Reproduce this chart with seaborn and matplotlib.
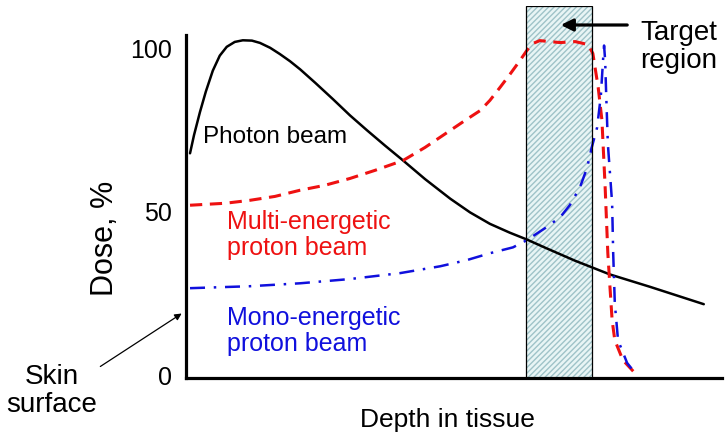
import matplotlib
matplotlib.use("Agg")
import matplotlib.pyplot as plt
from matplotlib.patches import Rectangle
import seaborn as sns
import pandas as pd

# Profundidad (unidades arbitrarias, 0-100) y dosis (%)
photon_depth = [0.75, 1.5, 2.6, 3.7, 5.0, 6.3, 7.6, 9.1, 10.6, 12.3, 13.8, 15.7, 17.5,
                19.4, 21.3, 24.1, 27.4, 30.6, 33.8, 37.1, 40.5, 44.6, 49.3, 53.0, 56.7,
                60.4, 63.6, 67.0, 69.8, 72.6, 75.7, 79.1, 86.6, 96.6]
photon_dose = [67.9, 73.5, 80.5, 86.8, 93.2, 97.8, 100.5, 102.0, 102.5, 102.4, 101.7,
               100.2, 98.3, 96.1, 93.6, 89.5, 84.5, 79.5, 74.9, 70.3, 65.7, 60.0, 54.0,
               49.8, 46.3, 43.6, 41.5, 39.0, 37.0, 35.0, 33.0, 30.8, 27.0, 21.7]

multi_depth = [0.75, 7.3, 11.9, 16.6, 21.3, 25.9, 30.6, 35.3, 40.5, 44.6, 49.3, 52.1,
               54.9, 56.7, 58.6, 60.4, 62.3, 63.6, 64.7, 66.0, 69.8, 72.6, 75.0, 75.9,
               76.9, 77.6, 78.2, 78.7, 79.1, 79.5, 80.0, 81.5, 84.1]
multi_dose = [52.0, 52.6, 53.5, 54.7, 56.6, 58.1, 60.2, 62.7, 65.7, 69.7, 74.9, 78.0,
              81.0, 84.1, 88.1, 92.0, 96.3, 99.4, 101.5, 102.4, 101.8, 102.1, 101.2, 98.5,
              88.1, 78.0, 57.5, 37.3, 26.9, 16.8, 10.7, 4.6, 0.0]

mono_depth = [0.75, 11.9, 21.3, 30.6, 39.9, 47.4, 52.4, 56.7, 61.0, 63.6, 67.0, 69.8,
              71.6, 73.5, 74.8, 75.7, 76.7, 77.4, 77.8, 78.0, 78.2, 78.4, 78.7, 79.5,
              79.7, 80.0, 80.6, 82.3, 84.1]
mono_dose = [26.6, 27.2, 28.1, 29.4, 31.2, 33.3, 35.2, 37.3, 39.1, 41.3, 45.0, 48.3,
             52.0, 57.5, 63.3, 69.7, 75.8, 85.6, 96.3, 100.9, 96.3, 85.6, 70.9, 52.6,
             37.3, 22.0, 10.7, 3.7, 0.0]

target_start, target_end = 63.4, 75.7
y_ticks = [0, 50, 100]

W, H = 726, 442


def fpos(x, y):
    # pixel de la imagen -> coordenadas de figura
    return x / W, 1 - y / H


sns.set_style("white")
plt.rcParams["font.family"] = ["Liberation Sans", "DejaVu Sans"]
plt.rcParams["text.color"] = "black"
plt.rcParams["axes.labelcolor"] = "black"
plt.rcParams["ytick.color"] = "black"

fig = plt.figure(figsize=(7.26, 4.42), dpi=100)
ax = fig.add_axes([186 / W, (H - 378) / H, 536 / W, 372 / H])

# Region objetivo (rectangulo rayado)
ax.add_patch(Rectangle((target_start, -1), target_end - target_start, 114,
                       facecolor="#e8f5f5", edgecolor="#9fc3c8", hatch="//////",
                       linewidth=0, zorder=1))
ax.add_patch(Rectangle((target_start, -1), target_end - target_start, 114,
                       fill=False, edgecolor="black", linewidth=0.9, zorder=4))

df_ph = pd.DataFrame({"depth": photon_depth, "dose": photon_dose})
df_mu = pd.DataFrame({"depth": multi_depth, "dose": multi_dose})
df_mo = pd.DataFrame({"depth": mono_depth, "dose": mono_dose})

sns.lineplot(data=df_ph, x="depth", y="dose", ax=ax, color="black", linewidth=1.8,
             sort=False, estimator=None, zorder=3)
sns.lineplot(data=df_mu, x="depth", y="dose", ax=ax, color="#ee1111", linewidth=2.2,
             sort=False, estimator=None, linestyle=(0, (4, 2.5)), zorder=3)
sns.lineplot(data=df_mo, x="depth", y="dose", ax=ax, color="#1010dd", linewidth=1.8,
             sort=False, estimator=None, linestyle=(0, (6, 3.5, 1, 3.5)), zorder=3)

ax.set_xlim(0, 100)
ax.set_ylim(-0.9, 113)
ax.set_xticks([])
ax.set_yticks(y_ticks)
ax.set_yticklabels([str(v) for v in y_ticks])
ax.tick_params(axis="y", length=0, pad=10, labelsize=18, labelcolor="black")

for s in ["top", "right"]:
    ax.spines[s].set_visible(False)
ax.spines["left"].set_linewidth(2.3)
ax.spines["bottom"].set_linewidth(2.3)
ax.spines["left"].set_color("black")
ax.spines["bottom"].set_color("black")
ax.spines["left"].set_bounds(-0.9, 104)
ax.patch.set_alpha(0)

ax.set_ylabel("Dose, %", fontsize=22)
ax.set_xlabel("Depth in tissue", fontsize=19)
ax.yaxis.set_label_coords(-0.123, 0.376)
ax.xaxis.set_label_coords(0.487, -0.08)

# Etiquetas de las curvas
fig.text(*fpos(203, 137), "Photon beam", fontsize=17.5, color="black", va="center")
fig.text(*fpos(227, 235), "Multi-energetic\nproton beam", fontsize=18, color="#ee1111",
         va="center", linespacing=1.1)
fig.text(*fpos(227, 331), "Mono-energetic\nproton beam", fontsize=18, color="#1010dd",
         va="center", linespacing=1.1)
fig.text(*fpos(640, 47), "Target\nregion", fontsize=20, va="center", linespacing=1.1)
fig.text(*fpos(52, 391), "Skin\nsurface", fontsize=20, va="center", ha="center",
         linespacing=1.15)

ax.annotate("", xy=fpos(558, 25), xytext=fpos(630, 25), xycoords="figure fraction",
            textcoords="figure fraction",
            arrowprops=dict(arrowstyle="-|>", color="black", lw=2.3, mutation_scale=18))
ax.annotate("", xy=fpos(184, 312), xytext=fpos(98, 368), xycoords="figure fraction",
            textcoords="figure fraction",
            arrowprops=dict(arrowstyle="-|>", color="black", lw=0.9, mutation_scale=10))

fig.savefig("out.png", dpi=100)
